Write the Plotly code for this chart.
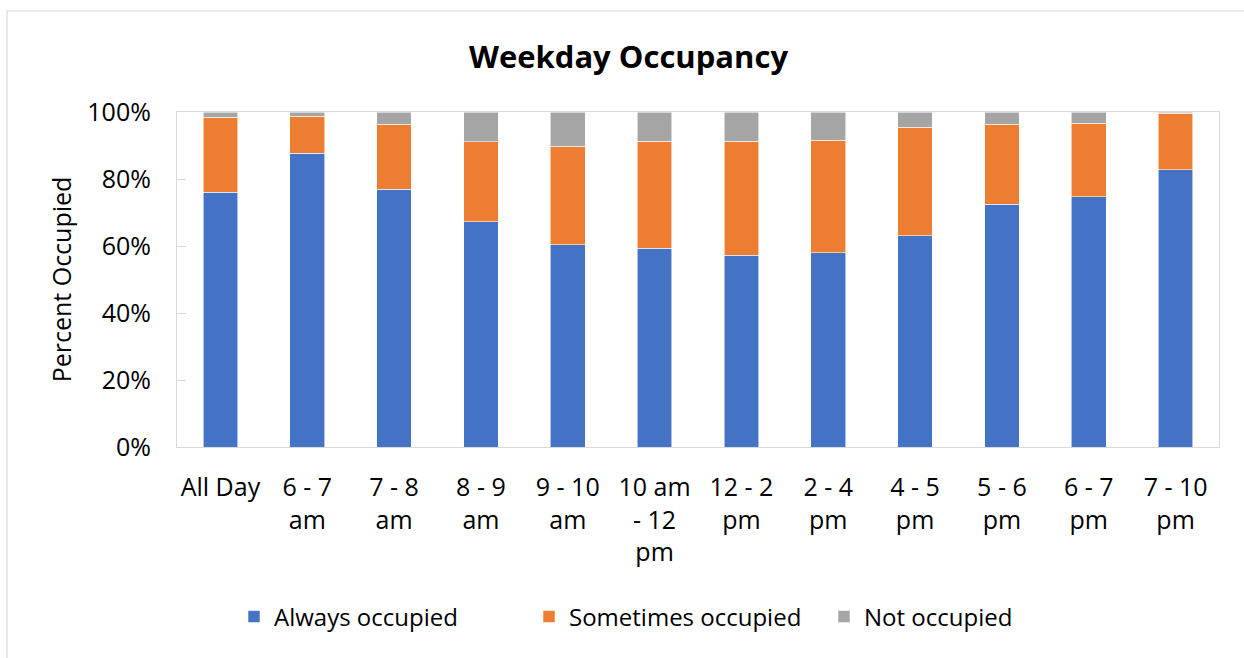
import plotly.graph_objects as go

categories = ["All Day", "6 - 7<br>am", "7 - 8<br>am", "8 - 9<br>am", "9 - 10<br>am",
              "10 am<br>- 12<br>pm", "12 - 2<br>pm", "2 - 4<br>pm", "4 - 5<br>pm",
              "5 - 6<br>pm", "6 - 7<br>pm", "7 - 10<br>pm"]
always = [0.760, 0.877, 0.769, 0.672, 0.604, 0.593, 0.572, 0.580, 0.630, 0.724, 0.747, 0.827]
sometimes = [0.224, 0.110, 0.194, 0.239, 0.294, 0.319, 0.340, 0.336, 0.324, 0.239, 0.220, 0.169]
not_occ = [0.016, 0.013, 0.037, 0.089, 0.102, 0.088, 0.088, 0.084, 0.046, 0.037, 0.033, 0.004]

FONT = "Open Sans"
W, H = 1244, 658
L, R, T, B = 177, 25, 112, 211

fig = go.Figure()
for name, vals, col in [("Always occupied", always, "#4472C4"),
                        ("Sometimes occupied", sometimes, "#ED7D31"),
                        ("Not occupied", not_occ, "#A5A5A5")]:
    fig.add_trace(go.Bar(x=categories, y=vals, name=name,
                         marker=dict(color=col, line=dict(color="rgba(255,255,255,0.7)", width=0.8))))

pw, ph = W - L - R, H - T - B
fig.update_layout(
    width=W, height=H,
    margin=dict(l=L, r=R, t=T, b=B, autoexpand=False),
    barmode="stack", bargap=0.6,
    paper_bgcolor="white", plot_bgcolor="white",
    font=dict(family=FONT, size=25, color="black"),
    title=dict(text="<b>Weekday Occupancy</b>", x=628.5 / W, xanchor="center",
               y=1 - 57 / H, yanchor="middle", font=dict(family=FONT, size=31, color="black")),
    legend=dict(orientation="h", x=(234 - L) / pw, xanchor="left",
                y=(H - B - 617) / ph, yanchor="middle",
                entrywidth=250, entrywidthmode="pixels",
                font=dict(family=FONT, size=24), traceorder="normal"),
    shapes=[dict(type="rect", xref="paper", yref="paper",
                 x0=(7 - L) / pw, x1=(1250 - L) / pw,
                 y0=(H - B - 670) / ph, y1=(H - B - 11) / ph,
                 line=dict(color="#d9d9d9", width=1.2), fillcolor="rgba(0,0,0,0)", layer="below")],
)
fig.update_xaxes(showline=True, linecolor="#d9d9d9", linewidth=1.2, mirror=True,
                 showgrid=False, ticks="", ticklabelstandoff=18,
                 tickfont=dict(family=FONT, size=25), automargin=False)
fig.update_yaxes(range=[0, 1], dtick=0.2, tickformat=".0%", showgrid=False,
                 showline=True, linecolor="#d9d9d9", linewidth=1.2, mirror=True,
                 ticks="inside", ticklen=9, tickcolor="#d9d9d9", ticklabelstandoff=20,
                 tickfont=dict(family=FONT, size=25), automargin=False,
                 title=dict(text="Percent Occupied", standoff=8, font=dict(family=FONT, size=25)))

fig.write_html("out.html", config={"displayModeBar": False},
               post_script="document.body.style.margin='0';document.body.style.overflow='hidden';")
